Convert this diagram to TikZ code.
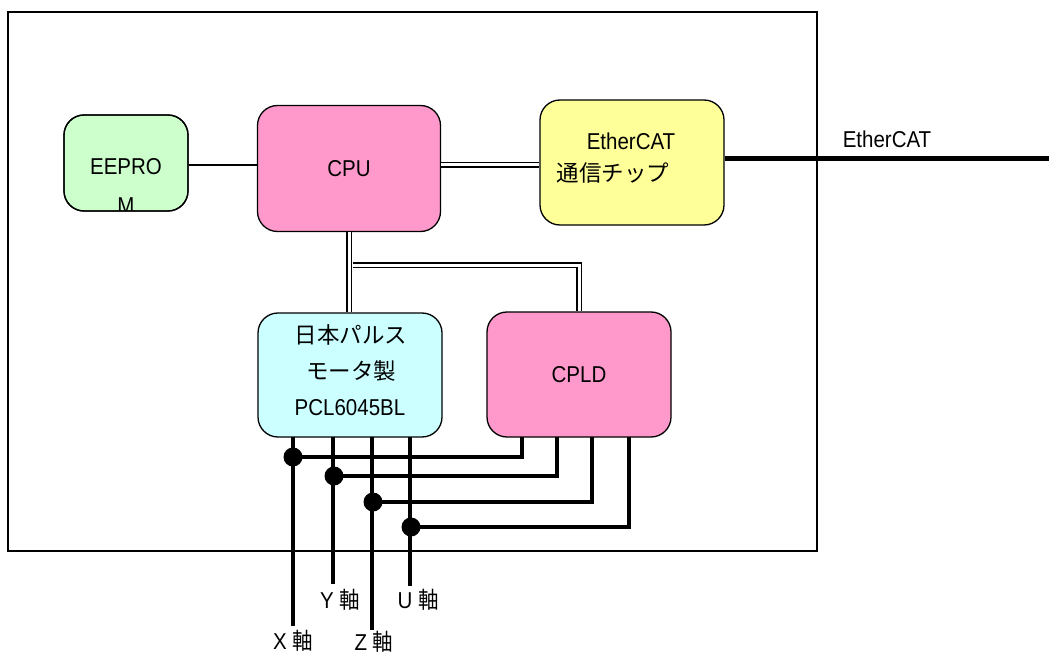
\documentclass[tikz,border=0pt]{standalone}
\usepackage{fontspec}
\usepackage{graphicx}
\setmainfont{Liberation Sans}
\newfontfamily\cjk{Noto Sans CJK JP}
\usetikzlibrary{calc}
\definecolor{cgreen}{HTML}{CCFFCC}
\definecolor{cpink}{HTML}{FF99CC}
\definecolor{cyellow}{HTML}{FFFF99}
\definecolor{ccyan}{HTML}{CCFFFF}
\newcommand\tl[1]{\scalebox{1}[1.12]{#1}}
\newcommand\jp[1]{{\fontsize{22.5}{26}\selectfont\cjk #1}}
\tikzset{
  blk/.style={draw=black, line width=1.3pt, rounded corners=20pt, inner sep=0pt,
    font=\fontsize{20.5}{24}\selectfont, align=center},
  dbl/.style={draw=black, line width=1.4pt, double=white, double distance=3pt},
  thin/.style={draw=black, line width=1.3pt},
  sig/.style={draw=black, line width=4pt},
  dot/.style={circle, fill=black, minimum size=19pt, inner sep=0pt},
  lbl/.style={font=\fontsize{20.5}{24}\selectfont, inner sep=0pt},
}
\begin{document}
\begin{tikzpicture}[x=1pt,y=-1pt]
\useasboundingbox (0,0) rectangle (1049,655);
% frame
\draw[thin] (8,12) rectangle (817,551);
% blocks
\node[blk, fill=cgreen, minimum width=124pt, minimum height=96pt] (eeprom) at (126,163) {};
\begin{scope}
  \clip[rounded corners=20pt] (64,115) rectangle (188,211);
  \node[lbl] (eetxt) at (126,167) {\tl{EEPRO}};
  \node[lbl] (eetxt2) at (126,206) {\tl{M}};
\end{scope}
\draw[thin, rounded corners=20pt] (64,115) rectangle (188,211);
\node[blk, fill=cpink, minimum width=183pt, minimum height=126pt] (cpu) at (349,168.5) {\tl{CPU}};
\node[blk, fill=cyellow, minimum width=184pt, minimum height=125pt] (ether) at (632,162.5) {};
\node[lbl] (ethtxt1) at (631,141) {\tl{EtherCAT}};
\node[lbl] (ethtxt2) at (613,173) {\jp{通信チップ}};
\node[blk, fill=ccyan, minimum width=184pt, minimum height=124pt] (pcl) at (350,375) {};
\node[lbl] (pcltxt1) at (351,335) {\jp{日本パルス}};
\node[lbl] (pcltxt2) at (351,371) {\jp{モータ製}};
\node[lbl] (pcltxt3) at (350,408) {\tl{PCL6045BL}};
\node[blk, fill=cpink, minimum width=184pt, minimum height=125pt] (cpld) at (579,374.5) {\tl{CPLD}};
% upper connections
\coordinate (ee1) at ($(eeprom.east)+(0,2)$);
\draw[thin] (ee1) -- (ee1 -| cpu.west);
\coordinate (cp1) at ($(cpu.east)+(0,-3.5)$);
\draw[dbl] (cp1) -- (cp1 -| ether.west);
\coordinate (ethend) at (1049,159);
\draw[line width=5pt] (ethend -| ether.east) -- (ethend);
\node[lbl] (ethlbl) at (887,139) {\tl{EtherCAT}};
% bus to PCL and CPLD
\draw[dbl] (cpu.south) -- (cpu.south |- pcl.north);
\coordinate (bj) at (352.5,265);
\draw[dbl] (bj) -- (bj -| cpld.north) -- (cpld.north);
% axis lines
\coordinate (xs) at (293,437); \coordinate (xe) at (293,626);
\coordinate (ys) at (333,437); \coordinate (ye) at (333,584);
\coordinate (zs) at (372,437); \coordinate (ze) at (372,630);
\coordinate (us) at (410,437); \coordinate (ue) at (410,586);
\draw[sig] (xs) -- (xe);
\draw[sig] (ys) -- (ye);
\draw[sig] (zs) -- (ze);
\draw[sig] (us) -- (ue);
% CPLD links
\coordinate (c1) at (522,437); \coordinate (c2) at (557,437);
\coordinate (c3) at (592,437); \coordinate (c4) at (629,437);
\node[dot] (j1) at (293,457) {};
\node[dot] (j2) at (334,476) {};
\node[dot] (j3) at (373,502) {};
\node[dot] (j4) at (411,527) {};
\draw[sig] (c1) -- (c1 |- j1.center) -- (j1.center);
\draw[sig] (c2) -- (c2 |- j2.center) -- (j2.center);
\draw[sig] (c3) -- (c3 |- j3.center) -- (j3.center);
\draw[sig] (c4) -- (c4 |- j4.center) -- (j4.center);
% labels
\node[lbl] (xl) at (293,641) {\tl{X {\cjk 軸}}};
\node[lbl] (yl) at (340,600) {\tl{Y {\cjk 軸}}};
\node[lbl] (zl) at (374,642) {\tl{Z {\cjk 軸}}};
\node[lbl] (ul) at (418,600) {\tl{U {\cjk 軸}}};
\end{tikzpicture}
\end{document}
